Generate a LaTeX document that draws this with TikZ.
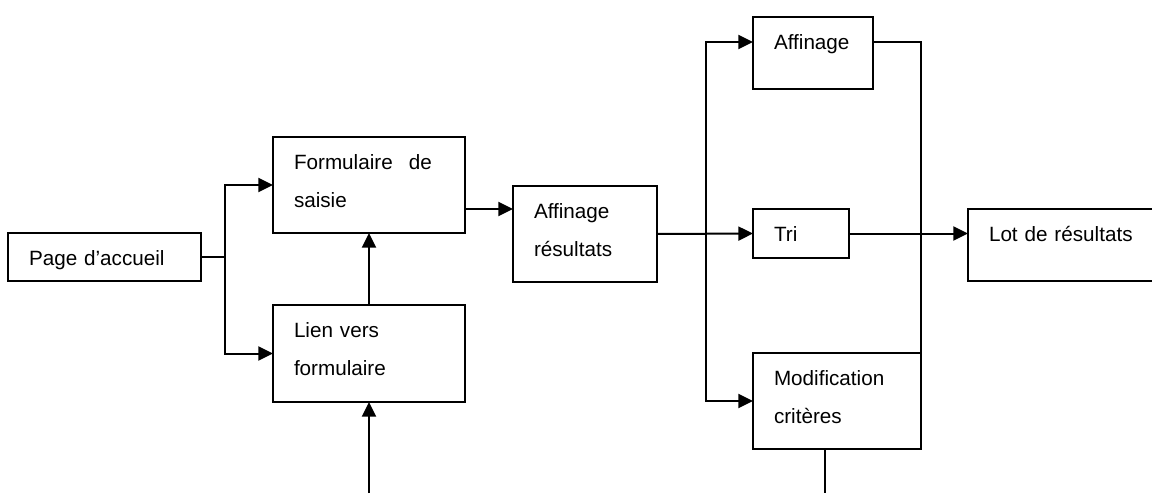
\documentclass[tikz,border=0pt]{standalone}
\usepackage{fontspec}
\setmainfont{Liberation Sans}
\usetikzlibrary{arrows.meta, positioning}

\begin{document}
\begin{tikzpicture}[x=0.75pt, y=-0.75pt,
  box/.style={draw, line width=1.5pt, anchor=north west, inner xsep=15.75pt, inner ysep=0pt,
    outer sep=0pt, align=left, text height=24.4pt, font=\fontsize{15.5pt}{28.5pt}\selectfont},
  link/.style={line width=1.5pt},
  arr/.style={link, -{Triangle[length=11pt, width=10.5pt]}}]
\useasboundingbox (0,0) rectangle (1152,493);

% boxes
\node[box, text width=113.25pt, text depth=11.6pt] (accueil) at (8,233) {Page d’accueil};
\node[box, text width=112.5pt, text depth=47.6pt] (saisie) at (273,137) {Formulaire \hspace{7pt}de\\saisie};
\node[box, text width=112.5pt, text depth=48.35pt] (lien) at (273,305) {Lien vers\\formulaire};
\node[box, text width=76.5pt, text depth=47.6pt] (affres) at (513,186) {Affinage\\résultats};
\node[box, text width=58.5pt, text depth=29.6pt] (affinage) at (753,17) {Affinage};
\node[box, text width=40.5pt, text depth=12.35pt] (tri) at (753,209) {Tri};
\node[box, text width=94.5pt, text depth=47.6pt] (modif) at (753,353) {Modification\\critères};
\node[box, text width=118.5pt, text depth=29.6pt] (lot) at (968,209) {Lot de résultats};

% junctions and free ends
\coordinate (j1) at (225,257);
\coordinate (j2) at (706,234);
\coordinate (lbot) at (369,493);
\coordinate (mbot) at (825,493);
\coordinate (s1) at ([yshift=-18pt]saisie.east);

% connectors
\draw[link] (accueil.east) -- (j1);
\draw[arr] (j1) |- (saisie.west);
\draw[arr] (j1) |- (lien.west);
\draw[arr] (lien.north) -- (saisie.south);
\draw[arr] (lbot) -- (lien.south);
\draw[arr] (s1) -- (s1 -| affres.west);
\draw[arr] (affres.east) -- (tri.west);
\draw[arr] (j2) |- ([yshift=8.25pt]affinage.west);
\draw[arr] (j2) |- (modif.west);
\draw[link] ([yshift=8.25pt]affinage.east) -| (modif.north east);
\draw[arr] (tri.east) -- (tri.east -| lot.west);
\draw[link] (mbot |- modif.south) -- (mbot);
\end{tikzpicture}
\end{document}
